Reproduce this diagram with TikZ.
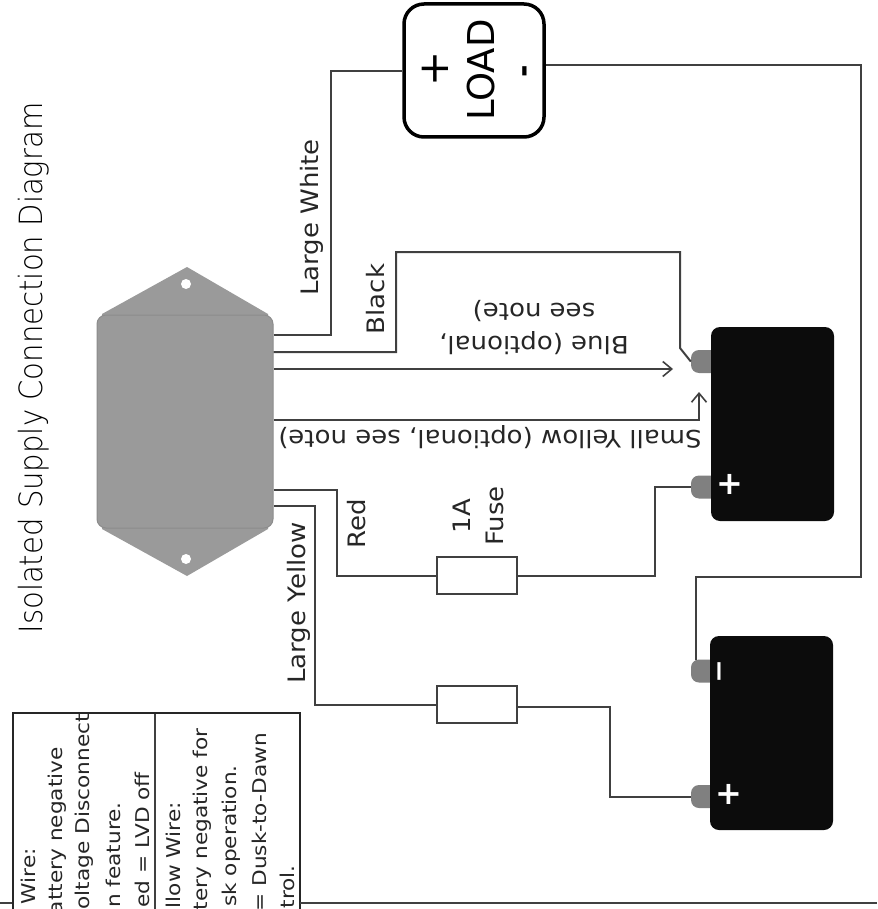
\documentclass[tikz,border=0pt]{standalone}
\usepackage{fontspec}
\setmainfont{DejaVu Sans}
\newfontfamily\titlefont{DejaVu Sans ExtraLight}
\usetikzlibrary{arrows.meta}
\definecolor{devgray}{HTML}{9A9A9A}
\definecolor{wirec}{HTML}{404040}
\definecolor{termgray}{HTML}{808080}
\definecolor{batt}{HTML}{0C0C0C}
\tikzset{
  wire/.style={draw=wirec,line width=2pt,line join=miter},
  arrowwire/.style={wire,-{Straight Barb[length=9pt,width=15pt,line width=1.6pt]}},
  lbl/.style={font=\fontsize{24}{33}\selectfont,text=black!85,inner sep=0pt},
  lblv/.style={lbl,rotate=90,xscale=1.083},
  lblf/.style={lbl,rotate=180,xscale=1.083,align=center},
  legend/.style={font=\fontsize{19}{22}\selectfont,text=black!85,inner sep=0pt,rotate=90,xscale=1.14,anchor=east},
  fuse/.style={draw=wirec,line width=1.7pt,fill=white,minimum width=80pt,minimum height=37pt,inner sep=0pt},
  battbox/.style={fill=batt,rounded corners=9pt,minimum width=123pt,minimum height=194pt,inner sep=0pt},
  term/.style={fill=termgray,rounded corners=8pt,minimum width=30pt,minimum height=23pt,inner sep=0pt},
  battsign/.style={text=white,font=\bfseries\fontsize{32}{32}\selectfont,inner sep=0pt},
}
\begin{document}
\begin{tikzpicture}[x=1pt,y=-1pt]
\useasboundingbox (0,0) rectangle (877,909);
\begin{scope}
\clip (0,0) rectangle (877,909);
% title
\node[rotate=90,xscale=.91,inner sep=0pt,font=\titlefont\fontsize{32}{34}\selectfont,text=black] (title) at (34,368) {Isolated Supply Connection Diagram};
% device
\fill[devgray] (187,267) -- (268,314) -- (268,529) -- (187,576) -- (102,529) -- (102,314) -- cycle;
\node[fill=devgray,draw=black!45,line width=1pt,rounded corners=9pt,minimum width=176pt,minimum height=213pt,inner sep=0pt] (dev) at (185,421.5) {};
\node[circle,fill=white,minimum size=10pt,inner sep=0pt] (h1) at (186,284) {};
\node[circle,fill=white,minimum size=10pt,inner sep=0pt] (h2) at (186,559) {};
% load
\node[draw=black,fill=white,line width=3.5pt,rounded corners=20pt,minimum width=140pt,minimum height=133pt,inner sep=0pt] (load) at (474,70.5) {};
\node[rotate=90,inner sep=0pt,font=\fontsize{37}{37}\selectfont] (loadtxt) at (481,70) {LOAD};
\node[rotate=90,inner sep=0pt,font=\fontsize{42}{42}\selectfont] (lplus) at (435,69) {+};
\node[rotate=90,inner sep=0pt,font=\bfseries\fontsize{30}{30}\selectfont] (lminus) at (528,71) {-};
% batteries
\node[term] (t1a) at (706,361.5) {};
\node[term] (t1b) at (706,487) {};
\node[term] (t2a) at (706,671) {};
\node[term] (t2b) at (706,796.5) {};
\node[battbox] (b1) at (772.5,424) {};
\node[battbox] (b2) at (771.5,733) {};
\node[battsign] (p1) at (730,484) {+};
\node[battsign] (p2) at (729,794) {+};
\node[rotate=90,text=white,inner sep=0pt,font=\fontsize{44}{44}\selectfont] (m2) at (725,671) {–};
% fuses
\node[fuse] (f1) at (477,575.5) {};
\node[fuse] (f2) at (477,704.5) {};
% wires
\draw[wire] (dev.east |- 0,335) -- (331,335) -- (331,71) -- (load.west |- 0,71);
\draw[wire] (dev.east |- 0,352) -- (396,352) -- (396,252) -- (680,252) -- (680,348) -- (t1a.west);
\draw[arrowwire] (dev.east |- 0,369) -- (673,369);
\draw[arrowwire] (dev.east |- 0,420) -- (699,420) -- (699,392);
\draw[wire] (dev.east |- 0,490) -- (337,490) -- (337,575.5) -- (f1.west);
\draw[wire] (f1.east) -- (655,575.5) -- (655,487) -- (t1b.west);
\draw[wire] (dev.east |- 0,506) -- (315,506) -- (315,704.5) -- (f2.west);
\draw[wire] (f2.east |- 0,707) -- (610,707) -- (610,796.5) -- (t2b.west);
\draw[wire] (load.east |- 0,65) -- (861,65) -- (861,577) -- (696,577) -- (696,660);
% labels
\node[lblv] (l1) at (312,217.5) {Large White};
\node[lblv] (l2) at (376,299) {Black};
\node[lblf] (l3) at (534,328) {Blue (optional,\\see note)};
\node[lbl,rotate=180,xscale=1.083] (l4) at (490,437) {Small Yellow (optional, see note)};
\node[lblv] (l5) at (357,524) {Red};
\node[lblv,align=center] (l6) at (478,516) {1A\\Fuse};
\node[lblv] (l7) at (299,603) {Large Yellow};
% legend
\node[draw=black!85,line width=2pt,fill=none,minimum width=287pt,minimum height=230pt,inner sep=0pt] (legbox) at (156,828) {};
\draw[black!75,line width=2pt] (155,714) -- (155,909);
\node[legend] (a1) at (28,848) {Wire:};
\node[legend] (a2) at (57,747) {attery negative};
\node[legend] (a3) at (84,714) {oltage Disconnect};
\node[legend] (a4) at (113,802) {n feature.};
\node[legend] (a5) at (142,772) {ed = LVD off};
\node[legend] (c1) at (173,802) {llow Wire:};
\node[legend] (c2) at (202,728) {tery negative for};
\node[legend] (c3) at (231,765) {sk operation.};
\node[legend] (c4) at (259,733) {= Dusk-to-Dawn};
\node[legend] (c5) at (287,865) {trol.};
\draw[black!75,line width=1.5pt] (0,903) -- (12,903);
\draw[black!75,line width=1.5pt] (300,903) -- (877,903);
\end{scope}
\end{tikzpicture}
\end{document}
